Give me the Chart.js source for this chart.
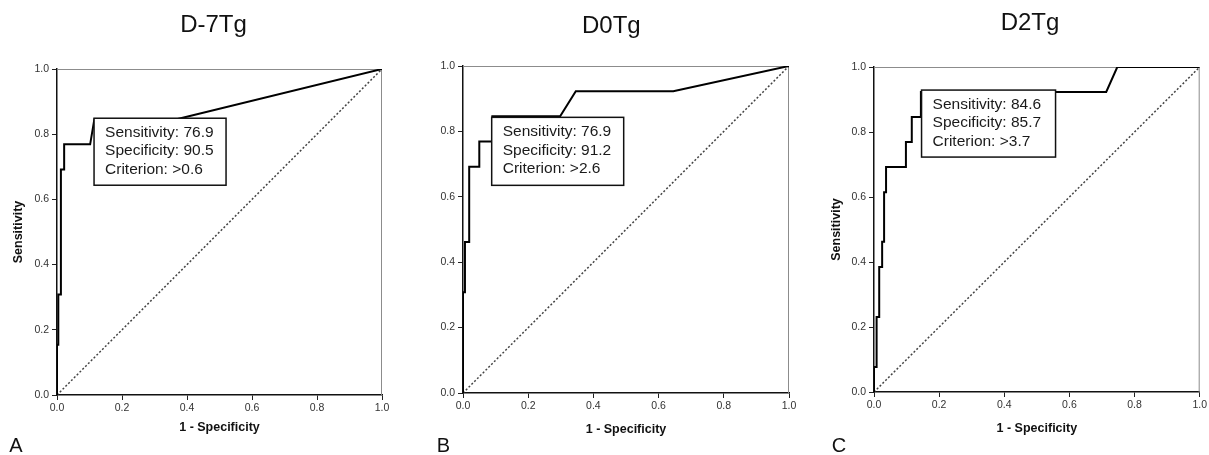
<!DOCTYPE html>
<html>
<head>
<meta charset="utf-8">
<title>ROC curves D-7Tg / D0Tg / D2Tg</title>
<script src="https://cdn.jsdelivr.net/npm/chart.js@4.4.1/dist/chart.umd.min.js"></script>
<style>
  html, body { margin: 0; padding: 0; background: #fff; }
  body { width: 1209px; height: 455px; position: relative; overflow: hidden; }
  canvas { position: absolute; top: 0; }
</style>
</head>
<body>
<canvas id="rocA" width="400" height="455" style="left:0px"></canvas>
<canvas id="rocB" width="400" height="455" style="left:410px"></canvas>
<canvas id="rocC" width="389" height="455" style="left:820px"></canvas>
<script>
/* ========= Data ========= */
const titles = ["D-7Tg", "D0Tg", "D2Tg"];
const panelLetters = ["A", "B", "C"];
const xAxisLabel = "1 - Specificity";
const yAxisLabel = "Sensitivity";

// 1 - specificity (x) and sensitivity (y), one entry per corner of the ROC step line
const fprA = [0, 0, 0.004, 0.004, 0.012, 0.012, 0.022, 0.022, 0.102, 0.115, 0.368, 1];
const tprA = [0, 0.154, 0.154, 0.308, 0.308, 0.692, 0.692, 0.769, 0.769, 0.846, 0.846, 1];

const fprB = [0, 0, 0.006, 0.006, 0.019, 0.019, 0.05, 0.05, 0.09, 0.09, 0.298, 0.346, 0.645, 1];
const tprB = [0, 0.308, 0.308, 0.462, 0.462, 0.692, 0.692, 0.769, 0.769, 0.846, 0.846, 0.923, 0.923, 1];

const fprC = [0, 0, 0.008, 0.008, 0.016, 0.016, 0.025, 0.025, 0.031, 0.031, 0.037, 0.037, 0.098, 0.098, 0.116, 0.116, 0.144, 0.144, 0.713, 0.747, 1];
const tprC = [0, 0.077, 0.077, 0.231, 0.231, 0.385, 0.385, 0.462, 0.462, 0.615, 0.615, 0.692, 0.692, 0.769, 0.769, 0.846, 0.846, 0.923, 0.923, 1, 1];

// chance line
const refX = [0, 1];
const refY = [0, 1];

// cut-off boxes
const statsA = ["Sensitivity: 76.9", "Specificity: 90.5", "Criterion: >0.6"];
const statsB = ["Sensitivity: 76.9", "Specificity: 91.2", "Criterion: >2.6"];
const statsC = ["Sensitivity: 84.6", "Specificity: 85.7", "Criterion: >3.7"];

const FONT = "'Liberation Sans', Arial, Helvetica, sans-serif";
Chart.defaults.font.family = FONT;

/* ========= Helpers ========= */
function toPoints(xs, ys) {
  return xs.map((x, i) => ({ x: x, y: ys[i] }));
}

// top + right frame lines (lighter than the axes)
const framePlugin = {
  id: "frame",
  beforeDatasetsDraw(chart) {
    const { ctx, chartArea: a } = chart;
    ctx.save();
    ctx.strokeStyle = "#8c8c8c";
    ctx.lineWidth = 1;
    ctx.beginPath();
    ctx.moveTo(a.left, a.top + 0.5);
    ctx.lineTo(a.right, a.top + 0.5);
    ctx.moveTo(a.right - 0.5, a.top);
    ctx.lineTo(a.right - 0.5, a.bottom);
    ctx.stroke();
    ctx.restore();
  }
};

// white box with the cut-off values, anchored in data units (top-left corner)
function statsBox(box) {
  return {
    id: "statsBox",
    afterDatasetsDraw(chart) {
      const { ctx, scales } = chart;
      const left = scales.x.getPixelForValue(box.x);
      const top = scales.y.getPixelForValue(box.y);
      ctx.save();
      ctx.fillStyle = "#fff";
      ctx.fillRect(left, top, box.w, box.h);
      ctx.strokeStyle = "#111";
      ctx.lineWidth = 1.5;
      ctx.strokeRect(left, top, box.w, box.h);
      ctx.fillStyle = "#1a1a1a";
      ctx.font = "15.5px " + FONT;
      ctx.textBaseline = "middle";
      ctx.textAlign = "left";
      box.lines.forEach((t, i) => ctx.fillText(t, left + 11, top + 14.4 + i * 18.5));
      ctx.restore();
    }
  };
}

// panel title above and the panel letter in the bottom-left corner
function panelText(p) {
  return {
    id: "panelText",
    afterDraw(chart) {
      const ctx = chart.ctx;
      ctx.save();
      ctx.fillStyle = "#111";
      ctx.textBaseline = "alphabetic";
      ctx.textAlign = "center";
      ctx.font = "24px " + FONT;
      ctx.fillText(p.title, p.titleX, p.titleY);
      ctx.textAlign = "left";
      ctx.font = "20px " + FONT;
      ctx.fillText(p.letter, p.letterX, p.letterY);
      ctx.restore();
    }
  };
}

function makeRoc(id, cfg) {
  const tickFont = { size: 10.5 };
  return new Chart(document.getElementById(id), {
    type: "line",
    data: {
      datasets: [
        { data: toPoints(cfg.fpr, cfg.tpr), borderColor: "#000", borderWidth: 2, pointRadius: 0, tension: 0, fill: false },
        { data: toPoints(refX, refY), borderColor: "#444", borderWidth: 1.5, borderDash: [2, 2], pointRadius: 0, fill: false }
      ]
    },
    options: {
      responsive: false,
      animation: false,
      events: [],
      layout: { padding: { top: cfg.top, right: cfg.right, left: 0, bottom: 0 } },
      plugins: { legend: { display: false }, tooltip: { enabled: false } },
      scales: {
        x: {
          type: "linear", min: 0, max: 1,
          afterFit: s => { s.height = cfg.xH; },
          ticks: { stepSize: 0.2, autoSkip: false, maxRotation: 0, padding: 2, color: "#333", font: tickFont,
                   callback: v => v.toFixed(1) },
          grid: { drawOnChartArea: false, drawTicks: true, tickLength: 5, color: "#222" },
          border: { display: true, color: "#111", width: 1.5 },
          title: { display: true, text: xAxisLabel, color: "#111", font: { size: 12.5, weight: "bold" },
                   padding: { top: 0, bottom: cfg.xTitlePad } }
        },
        y: {
          type: "linear", min: 0, max: 1,
          afterFit: s => { s.width = cfg.yW; },
          ticks: { stepSize: 0.2, autoSkip: false, padding: 3, color: "#333", font: tickFont,
                   callback: v => v.toFixed(1) },
          grid: { drawOnChartArea: false, drawTicks: true, tickLength: 5, color: "#222" },
          border: { display: true, color: "#111", width: 1.5 },
          title: { display: cfg.showY, text: yAxisLabel, color: "#111", font: { size: 12.5, weight: "bold" },
                   padding: { top: cfg.yTitlePad, bottom: 0 } }
        }
      }
    },
    plugins: [framePlugin, statsBox(cfg.box), panelText(cfg.text)]
  });
}

/* ========= Charts ========= */
makeRoc("rocA", {
  fpr: fprA, tpr: tprA, top: 69, right: 18, yW: 57, xH: 60, xTitlePad: 19.5, yTitlePad: 10.8, showY: true,
  box: { x: 0.114, y: 0.849, w: 132, h: 67, lines: statsA },
  text: { title: titles[0], titleX: 213.5, titleY: 32.3, letter: panelLetters[0], letterX: 9.3, letterY: 452.3 }
});

makeRoc("rocB", {
  fpr: fprB, tpr: tprB, top: 66, right: 21, yW: 53, xH: 62, xTitlePad: 18.2, yTitlePad: 0, showY: false,
  box: { x: 0.088, y: 0.843, w: 132, h: 68, lines: statsB },
  text: { title: titles[1], titleX: 201.3, titleY: 32.7, letter: panelLetters[1], letterX: 26.7, letterY: 452.3 }
});

makeRoc("rocC", {
  fpr: fprC, tpr: tprC, top: 67, right: 9, yW: 54, xH: 63, xTitlePad: 19.2, yTitlePad: 9.5, showY: true,
  box: { x: 0.146, y: 0.929, w: 134, h: 67, lines: statsC },
  text: { title: titles[2], titleX: 210, titleY: 30, letter: panelLetters[2], letterX: 11.7, letterY: 452.3 }
});
</script>
</body>
</html>
